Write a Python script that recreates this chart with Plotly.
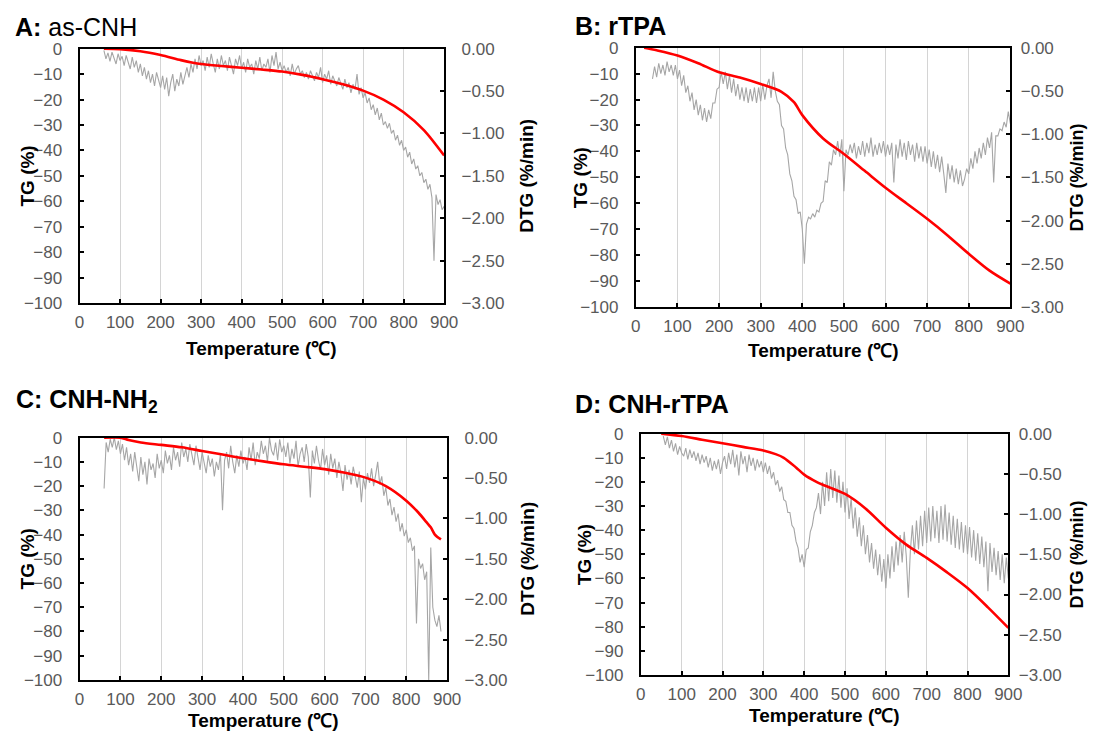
import plotly.graph_objects as go

# ---------------- data ----------------
# TG (%) red curves
A_tg_x = [60, 100, 150, 200, 250, 280, 300, 350, 400, 450, 500, 550, 600, 650, 700, 750, 800, 850, 900]
A_tg = [0, -0.2, -1, -2.5, -4.5, -5.5, -6, -6.8, -7.5, -8.2, -9, -10.3, -12, -14, -16.5, -20, -25, -32, -42]

B_tg_x = [20, 50, 100, 150, 200, 250, 300, 350, 380, 400, 450, 500, 550, 600, 650, 700, 750, 800, 850, 900]
B_tg = [0, -1, -3, -6, -9.5, -11.5, -14, -17, -21, -26, -35, -41, -47.5, -54, -60, -66, -72.5, -79.5, -86, -91]

C_tg_x = [60, 100, 120, 150, 200, 250, 300, 350, 400, 450, 500, 550, 600, 650, 700, 750, 800, 830, 850, 860, 870, 885]
C_tg = [0, 0, -1, -2, -3, -4, -5.5, -7, -8.5, -9.8, -11, -12, -13, -14.5, -16.5, -20, -26, -31, -35, -37, -40, -42]

D_tg_x = [50, 100, 150, 200, 250, 300, 330, 350, 380, 400, 430, 450, 500, 550, 600, 650, 700, 750, 800, 850, 900]
D_tg = [0, -1, -2.5, -4, -5.5, -7, -8.5, -10, -14, -17, -20, -21.5, -25, -31, -39, -46, -51.5, -57.5, -64, -72, -80.5]

# DTG (%/min) grey curves, sampled every 5 degC
A_dtg_x = list(range(60, 901, 5))
A_dtg = [
    -0.02, -0.12, -0.05, -0.15, -0.04, -0.10, -0.18, -0.06, -0.14, -0.09,
    -0.20, -0.08, -0.16, -0.24, -0.10, -0.22, -0.14, -0.28, -0.18, -0.32,
    -0.22, -0.36, -0.26, -0.40, -0.30, -0.44, -0.28, -0.38, -0.46, -0.32,
    -0.48, -0.34, -0.56, -0.40, -0.30, -0.50, -0.36, -0.44, -0.28, -0.42,
    -0.30, -0.22, -0.34, -0.18, -0.28, -0.12, -0.24, -0.08, -0.20, -0.14,
    -0.26, -0.10, -0.22, -0.06, -0.18, -0.28, -0.12, -0.24, -0.08, -0.20,
    -0.14, -0.26, -0.10, -0.22, -0.30, -0.12, -0.20, -0.08, -0.24, -0.16,
    -0.28, -0.12, -0.22, -0.18, -0.30, -0.14, -0.24, -0.10, -0.26, -0.18,
    -0.22, -0.12, -0.28, -0.08, -0.20, -0.04, -0.24, -0.16, -0.26, -0.20,
    -0.28, -0.22, -0.32, -0.18, -0.30, -0.24, -0.20, -0.30, -0.26, -0.34,
    -0.28, -0.36, -0.26, -0.32, -0.38, -0.28, -0.34, -0.22, -0.40, -0.30,
    -0.36, -0.26, -0.42, -0.32, -0.38, -0.44, -0.34, -0.40, -0.48, -0.36,
    -0.46, -0.40, -0.52, -0.42, -0.48, -0.30, -0.54, -0.46, -0.58, -0.52,
    -0.64, -0.58, -0.72, -0.66, -0.78, -0.70, -0.84, -0.76, -0.90, -0.86,
    -0.94, -0.88, -1.00, -0.96, -1.08, -1.02, -1.14, -1.08, -1.20, -1.16,
    -1.28, -1.22, -1.36, -1.30, -1.42, -1.38, -1.50, -1.46, -1.58, -1.54,
    -1.66, -1.60, -1.76, -2.50, -1.72, -1.84, -1.78, -1.90, -1.86,
]

B_dtg_x = list(range(40, 901, 5))
B_dtg = [
    -0.36, -0.22, -0.34, -0.18, -0.30, -0.20, -0.32, -0.16, -0.28, -0.20,
    -0.32, -0.20, -0.36, -0.26, -0.44, -0.32, -0.52, -0.44, -0.62, -0.52,
    -0.72, -0.60, -0.78, -0.66, -0.84, -0.70, -0.86, -0.72, -0.82, -0.64,
    -0.64, -0.48, -0.46, -0.28, -0.42, -0.28, -0.48, -0.32, -0.52, -0.36,
    -0.56, -0.42, -0.60, -0.46, -0.62, -0.46, -0.64, -0.48, -0.62, -0.46,
    -0.64, -0.46, -0.62, -0.42, -0.60, -0.44, -0.36, -0.58, -0.28, -0.50,
    -0.62, -0.66, -0.90, -0.94, -1.16, -1.24, -1.46, -1.54, -1.72, -1.76,
    -1.92, -1.90, -2.10, -2.50, -2.04, -1.96, -1.98, -1.92, -1.96, -1.88,
    -1.90, -1.80, -1.78, -1.54, -1.56, -1.32, -1.36, -1.18, -1.24, -1.08,
    -1.26, -1.06, -1.66, -1.18, -1.24, -1.12, -1.22, -1.10, -1.28, -1.14,
    -1.24, -1.08, -1.26, -1.10, -1.22, -1.04, -1.26, -1.12, -1.24, -1.10,
    -1.22, -1.08, -1.26, -1.12, -1.24, -1.10, -1.56, -1.12, -1.28, -1.06,
    -1.26, -1.10, -1.30, -1.08, -1.24, -1.12, -1.32, -1.10, -1.28, -1.14,
    -1.32, -1.14, -1.34, -1.18, -1.38, -1.20, -1.40, -1.24, -1.44, -1.26,
    -1.46, -1.68, -1.34, -1.52, -1.36, -1.56, -1.40, -1.58, -1.42, -1.60,
    -1.52, -1.40, -1.46, -1.28, -1.40, -1.20, -1.34, -1.16, -1.28, -1.10,
    -1.24, -1.04, -1.16, -0.98, -1.56, -1.02, -1.02, -0.94, -0.96, -0.86,
    -0.92, -0.74, -0.88,
]

C_dtg_x = list(range(60, 886, 5))
C_dtg = [
    -0.63, -0.06, -0.18, -0.02, -0.12, -0.00, -0.15, -0.04, -0.20, -0.08,
    -0.28, -0.12, -0.34, -0.20, -0.42, -0.18, -0.36, -0.54, -0.24, -0.46,
    -0.30, -0.58, -0.26, -0.40, -0.32, -0.50, -0.20, -0.38, -0.28, -0.44,
    -0.16, -0.32, -0.22, -0.40, -0.12, -0.28, -0.18, -0.36, -0.06, -0.24,
    -0.14, -0.30, -0.08, -0.22, -0.34, -0.10, -0.26, -0.40, -0.18, -0.32,
    -0.44, -0.22, -0.36, -0.26, -0.48, -0.30, -0.40, -0.20, -0.90, -0.28,
    -0.18, -0.38, -0.10, -0.30, -0.44, -0.22, -0.36, -0.16, -0.32, -0.24,
    -0.40, -0.12, -0.28, -0.06, -0.34, -0.18, -0.26, -0.04, -0.20, -0.10,
    -0.30, -0.00, -0.16, -0.22, -0.06, -0.28, -0.02, -0.18, -0.10, -0.24,
    -0.06, -0.32, -0.14, -0.26, -0.04, -0.36, -0.20, -0.12, -0.30, -0.08,
    -0.24, -0.74, -0.16, -0.32, -0.10, -0.28, -0.40, -0.14, -0.34, -0.22,
    -0.46, -0.20, -0.38, -0.26, -0.50, -0.30, -0.44, -0.66, -0.34, -0.52,
    -0.40, -0.58, -0.36, -0.48, -0.62, -0.42, -0.80, -0.50, -0.64, -0.44,
    -0.56, -0.38, -0.60, -0.46, -0.30, -0.58, -0.48, -0.72, -0.62, -0.84,
    -0.76, -0.96, -0.86, -1.04, -0.94, -1.16, -1.06, -1.22, -1.14, -1.30,
    -1.24, -1.40, -1.34, -2.30, -1.50, -1.62, -1.56, -1.76, -1.66, -3.00,
    -1.36, -2.10, -2.26, -2.34, -2.20, -2.40,
]

D_dtg_x = list(range(55, 901, 5))
D_dtg = [
    -0.03, -0.14, -0.04, -0.18, -0.08, -0.22, -0.12, -0.26, -0.16, -0.24,
    -0.28, -0.18, -0.32, -0.20, -0.30, -0.22, -0.34, -0.24, -0.38, -0.26,
    -0.36, -0.28, -0.42, -0.30, -0.46, -0.34, -0.44, -0.32, -0.50, -0.36,
    -0.28, -0.44, -0.24, -0.38, -0.20, -0.42, -0.26, -0.52, -0.22, -0.38,
    -0.28, -0.48, -0.26, -0.40, -0.30, -0.46, -0.32, -0.42, -0.34, -0.48,
    -0.36, -0.50, -0.40, -0.56, -0.48, -0.64, -0.58, -0.72, -0.66, -0.82,
    -0.84, -0.98, -0.98, -1.14, -1.18, -1.34, -1.42, -1.60, -1.50, -1.66,
    -1.44, -1.42, -1.22, -1.14, -0.98, -0.92, -0.74, -1.00, -0.60, -0.90,
    -0.48, -0.84, -0.44, -0.80, -0.46, -0.86, -0.52, -0.92, -0.60, -0.98,
    -0.68, -1.06, -0.80, -1.18, -0.92, -1.28, -1.04, -1.40, -1.14, -1.50,
    -1.26, -1.60, -1.36, -1.68, -1.44, -1.76, -1.50, -1.84, -1.56, -1.92,
    -1.50, -1.80, -1.40, -1.72, -1.34, -1.64, -1.26, -1.60, -1.22, -1.52,
    -2.04, -1.46, -1.14, -1.50, -1.08, -1.44, -1.02, -1.40, -0.96, -1.36,
    -0.92, -1.34, -0.90, -1.30, -0.96, -1.36, -0.90, -1.32, -0.88, -1.34,
    -0.98, -1.38, -1.02, -1.42, -1.06, -1.44, -1.10, -1.48, -1.14, -1.50,
    -1.16, -1.54, -1.20, -1.58, -1.24, -1.62, -1.28, -1.66, -1.34, -1.96,
    -1.36, -1.72, -1.42, -1.76, -1.46, -1.82, -1.50, -1.86, -1.54, -1.80,
]

titles = ["<b>A:</b> as-CNH", "<b>B: rTPA</b>", "<b>C: CNH-NH<sub>2</sub></b>", "<b>D: CNH-rTPA</b>"]
x_ticks = [0, 100, 200, 300, 400, 500, 600, 700, 800, 900]
tg_ticks = [0, -10, -20, -30, -40, -50, -60, -70, -80, -90, -100]
dtg_ticks = [0, -0.5, -1.0, -1.5, -2.0, -2.5, -3.0]

# ---------------- layout geometry ----------------
W, H = 1097, 740
# target positions (pixels in the picture) are mapped to page pixels,
# compensating the small offset/scale seen between page and photograph
OX, SX = 4.3, 0.984
OY, SY = 9.2, 0.977


def fx(p):
    return min(max((p - OX) / SX, 0), W) / W


def fy(p):
    return 1 - min(max((p - OY) / SY, 0), H) / H


# (left, right, top, bottom) of each plot area, in picture pixels
boxes = [(79, 444, 49, 304), (636, 1011, 48, 308), (79, 447, 439, 682), (641, 1009, 435, 677)]
title_pos = [(12, 27), (573, 26), (13, 402), (573, 405)]
xtitle_y = [350, 352, 723, 718]
tg_title_x = [27, 580, 27, 584]
dtg_title_x = [527, 1078, 528, 1078]
dtg_title_size = [19, 18, 19, 18]
dtg_label_standoff = [12, 5, 12, 5]

data_sets = [
    (A_tg_x, A_tg, A_dtg_x, A_dtg),
    (B_tg_x, B_tg, B_dtg_x, B_dtg),
    (C_tg_x, C_tg, C_dtg_x, C_dtg),
    (D_tg_x, D_tg, D_dtg_x, D_dtg),
]

FONT = "Liberation Sans, Arial, sans-serif"
TICKFONT = dict(family=FONT, size=17, color="#595959")

fig = go.Figure()
layout = dict(
    width=W, height=H,
    margin=dict(l=0, r=0, t=0, b=0),
    paper_bgcolor="white", plot_bgcolor="white",
    showlegend=False,
    annotations=[],
)

for i, ((tx, ty, dx, dy), (l, r, t, b)) in enumerate(zip(data_sets, boxes)):
    xn = i + 1
    yd_n = 2 * i + 1   # DTG axis (base, right side)
    yt_n = 2 * i + 2   # TG axis (overlaying, left side)
    xs = "x" if xn == 1 else f"x{xn}"
    yds = "y" if yd_n == 1 else f"y{yd_n}"
    yts = f"y{yt_n}"

    fig.add_trace(go.Scatter(x=dx, y=dy, mode="lines", xaxis=xs, yaxis=yds,
                             line=dict(color="#a6a6a6", width=1.1), hoverinfo="skip"))
    fig.add_trace(go.Scatter(x=tx, y=ty, mode="lines", xaxis=xs, yaxis=yts,
                             line=dict(color="#ff0000", width=2.6, shape="spline", smoothing=0.8),
                             hoverinfo="skip"))

    xdom = [fx(l), fx(r)]
    ydom = [fy(b), fy(t)]
    layout["xaxis" if xn == 1 else f"xaxis{xn}"] = dict(
        domain=xdom, anchor=yds, range=[0, 900], tickvals=x_ticks,
        ticks="inside", ticklen=4, tickwidth=1.5, tickcolor="black",
        showline=True, linecolor="black", linewidth=2, mirror=True,
        showgrid=True, gridcolor="#d4d4d4", gridwidth=1,
        zeroline=False, tickfont=TICKFONT, ticklabelstandoff=3,
    )
    layout["yaxis" if yd_n == 1 else f"yaxis{yd_n}"] = dict(
        domain=ydom, anchor=xs, side="right", range=[-3, 0],
        tickvals=dtg_ticks, tickformat=".2f",
        ticks="inside", ticklen=4, tickwidth=1.5, tickcolor="black",
        showline=True, linecolor="black", linewidth=2,
        showgrid=False, zeroline=False, tickfont=TICKFONT,
        ticklabelstandoff=dtg_label_standoff[i],
    )
    layout[f"yaxis{yt_n}"] = dict(
        anchor=xs, overlaying=yds, side="left", range=[-100, 0],
        tickvals=tg_ticks,
        ticks="inside", ticklen=4, tickwidth=1.5, tickcolor="black",
        showline=True, linecolor="black", linewidth=2,
        showgrid=False, zeroline=False, tickfont=TICKFONT, ticklabelstandoff=12,
    )

    # panel title
    px, py = title_pos[i]
    layout["annotations"].append(dict(
        text=titles[i], x=fx(px), y=fy(py), xref="paper", yref="paper",
        xanchor="left", yanchor="middle", showarrow=False,
        font=dict(family=FONT, size=25, color="black")))
    # axis titles
    layout["annotations"].append(dict(
        text="<b>TG (%)</b>", x=fx(tg_title_x[i]), y=fy((t + b) / 2), xref="paper", yref="paper",
        xanchor="center", yanchor="middle", textangle=-90, showarrow=False,
        font=dict(family=FONT, size=19, color="black")))
    layout["annotations"].append(dict(
        text="<b>DTG (%/min)</b>", x=fx(dtg_title_x[i]), y=fy((t + b) / 2), xref="paper", yref="paper",
        xanchor="center", yanchor="middle", textangle=-90, showarrow=False,
        font=dict(family=FONT, size=dtg_title_size[i], color="black")))
    layout["annotations"].append(dict(
        text="<b>Temperature (℃)</b>", x=fx((l + r) / 2), y=fy(xtitle_y[i]), xref="paper", yref="paper",
        xanchor="center", yanchor="middle", showarrow=False,
        font=dict(family=FONT, size=19, color="black")))

fig.update_layout(**layout)
fig.write_html("out.html", config={"displayModeBar": False},
               post_script="document.body.style.margin='0';")
